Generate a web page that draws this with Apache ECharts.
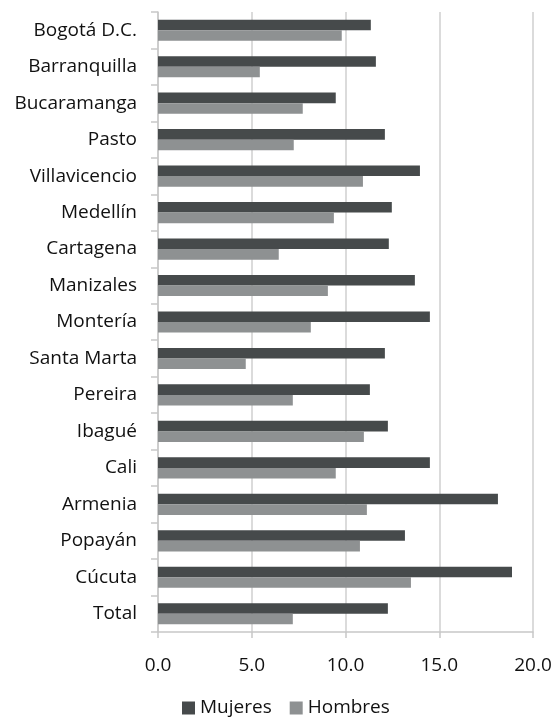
<!DOCTYPE html>
<html><head><meta charset="utf-8">
<script src="https://cdn.jsdelivr.net/npm/echarts@6/dist/echarts.min.js"></script>
<style>html,body{margin:0;padding:0;background:#fff}#c{width:556px;height:719px}</style>
</head><body><div id="c"></div>
<script>
var categories = ["Bogotá D.C.","Barranquilla","Bucaramanga","Pasto","Villavicencio","Medellín","Cartagena","Manizales","Montería","Santa Marta","Pereira","Ibagué","Cali","Armenia","Popayán","Cúcuta","Total"];
var mujeres = [11.35,11.62,9.48,12.10,13.97,12.47,12.31,13.70,14.50,12.10,11.30,12.26,14.50,18.13,13.17,18.88,12.26];
var hombres = [9.80,5.43,7.72,7.24,10.93,9.38,6.44,9.06,8.15,4.68,7.19,10.98,9.48,11.14,10.77,13.49,7.19];
var xTicks = [0,5,10,15,20];

var chart = echarts.init(document.getElementById('c'));
var font = "'Open Sans', 'DejaVu Sans', sans-serif";
chart.setOption({
  animation:false,
  textStyle:{fontFamily:font},
  grid:{left:158,right:23,top:12,bottom:87,containLabel:false},
  legend:{top:698,left:182,padding:0,itemWidth:13,itemHeight:13,itemGap:18,icon:'rect',
    textStyle:{fontSize:19,color:'#111',fontFamily:font,lineHeight:20},
    data:['Mujeres','Hombres']},
  xAxis:{type:'value',min:xTicks[0],max:xTicks[xTicks.length-1],interval:5,
    axisLine:{show:true,lineStyle:{color:'#c8c8c8',width:1.5}},
    axisTick:{show:true,length:6,lineStyle:{color:'#c8c8c8',width:1.5}},
    splitLine:{show:true,lineStyle:{color:'#cfcfcf',width:1.5}},
    axisLabel:{fontSize:19,color:'#111',margin:24,fontFamily:font,formatter:function(v){return v.toFixed(1);}}},
  yAxis:{type:'category',inverse:true,data:categories,
    axisLine:{show:true,lineStyle:{color:'#c8c8c8',width:1.5}},
    axisTick:{show:true,length:7,lineStyle:{color:'#c8c8c8',width:1.5}},
    axisLabel:{fontSize:19,color:'#111',margin:21,fontFamily:font}},
  series:[
    {name:'Mujeres',type:'bar',data:mujeres,barGap:'0%',barCategoryGap:'42%',itemStyle:{color:'#464a4b'}},
    {name:'Hombres',type:'bar',data:hombres,barGap:'0%',barCategoryGap:'42%',itemStyle:{color:'#8e9192'}}
  ]
});
</script></body></html>
